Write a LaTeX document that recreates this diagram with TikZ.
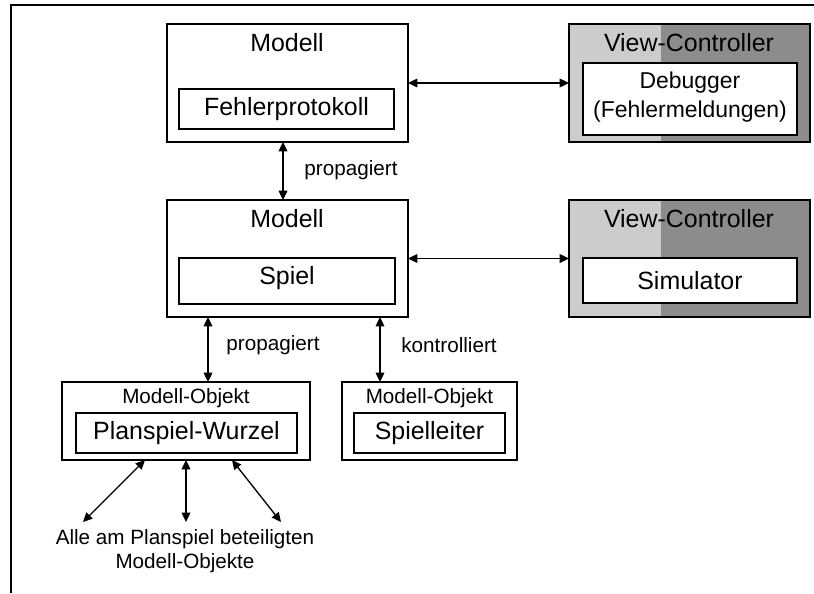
\documentclass[tikz,border=0pt]{standalone}
\usepackage{fontspec}
\setmainfont{Liberation Sans}
\usetikzlibrary{arrows.meta}
\definecolor{vclight}{RGB}{204,204,204}
\definecolor{vcdark}{RGB}{140,140,140}
\tikzset{
  box/.style={draw, line width=1.1pt, inner sep=0pt, outer sep=0pt, fill=white},
  vcbox/.style={box, fill=vcdark,
    path picture={\fill[vclight] (path picture bounding box.south west)
      rectangle ([xshift=69pt]path picture bounding box.north west);}},
  bigtext/.style={inner sep=0pt, font=\fontsize{18.7}{22}\selectfont, align=center},
  smalltext/.style={inner sep=0pt, font=\fontsize{15.5}{18}\selectfont, align=center},
  link/.style={line width=1pt, {Triangle[length=7pt,width=6.5pt]}-{Triangle[length=7pt,width=6.5pt]}}
}
\begin{document}
\begin{tikzpicture}[x=0.75pt, y=-0.75pt]
\useasboundingbox (0,0) rectangle (814,593);

% outer frame (top and left edges only)
\draw[line width=1.5pt] (11,593) -- (11,5) -- (814,5);

% upper model: error log
\node[box, minimum width=180.75pt, minimum height=88.5pt] (m1) at (287.5,83) {};
\node[bigtext] (m1t) at (287,43) {Modell};
\node[box, minimum width=161.25pt, minimum height=30pt] (fp) at (286.5,109) {};
\node[bigtext] (fpt) at (fp) {Fehlerprotokoll};

% upper view-controller: debugger
\node[vcbox, minimum width=180.75pt, minimum height=88.5pt] (vc1) at (689.5,83) {};
\node[bigtext] (vc1t) at (689,43) {View-Controller};
\node[box, minimum width=160.5pt, minimum height=54pt] (dbg) at (690,99) {};
\node[bigtext, font=\fontsize{17.2}{21.75}\selectfont] (dbgt) at (690,97.5) {Debugger\\(Fehlermeldungen)};

% middle model: game
\node[box, minimum width=180.75pt, minimum height=87.75pt] (m2) at (287.5,258.5) {};
\node[bigtext] (m2t) at (287,219) {Modell};
\node[box, minimum width=162pt, minimum height=34.5pt] (sp) at (287,281) {};
\node[bigtext] (spt) at (287,278) {Spiel};

% middle view-controller: simulator
\node[vcbox, minimum width=180.75pt, minimum height=87.75pt] (vc2) at (689.5,258.5) {};
\node[bigtext] (vc2t) at (689,219) {View-Controller};
\node[box, minimum width=160.5pt, minimum height=33.75pt] (sim) at (690,280.5) {};
\node[bigtext] (simt) at (sim) {Simulator};

% model objects
\node[box, minimum width=186pt, minimum height=58.5pt] (o1) at (186,421) {};
\node[smalltext] (o1t) at (186,398) {Modell-Objekt};
\node[box, minimum width=165.75pt, minimum height=30pt] (pw) at (186.5,433) {};
\node[bigtext] (pwt) at (pw) {Planspiel-Wurzel};

\node[box, minimum width=131.25pt, minimum height=58.5pt] (o2) at (429.5,421) {};
\node[smalltext] (o2t) at (429.5,398) {Modell-Objekt};
\node[box, minimum width=113.25pt, minimum height=30pt] (sl) at (429.5,433) {};
\node[bigtext] (slt) at (sl) {Spielleiter};

% all further model objects
\node[smalltext] (all) at (185,551) {Alle am Planspiel beteiligten\\Modell-Objekte};

% x positions of vertical links
\coordinate (xa) at (283,0);
\coordinate (xb) at (208,0);
\coordinate (xc) at (380,0);

% connectors
\draw[link] (m1) -- (vc1);
\draw[link] (m2) -- (vc2);
\draw[link] (m1.south -| xa) -- (m2.north -| xa);
\draw[link] (m2.south -| xb) -- (o1.north -| xb);
\draw[link] (m2.south -| xc) -- (o2.north -| xc);

\node[smalltext] (l1) at (351,170) {propagiert};
\node[smalltext] (l2) at (273,345) {propagiert};
\node[smalltext] (l3) at (449,345) {kontrolliert};

% links to the remaining model objects
\coordinate (s1) at (145,0);
\coordinate (s2) at (186,0);
\coordinate (s3) at (232,0);
\coordinate (e1) at (83,522);
\coordinate (e2) at (186,522);
\coordinate (e3) at (281,522);
\draw[link] (o1.south -| s1) -- (e1);
\draw[link] (o1.south -| s2) -- (e2);
\draw[link] (o1.south -| s3) -- (e3);
\end{tikzpicture}
\end{document}
